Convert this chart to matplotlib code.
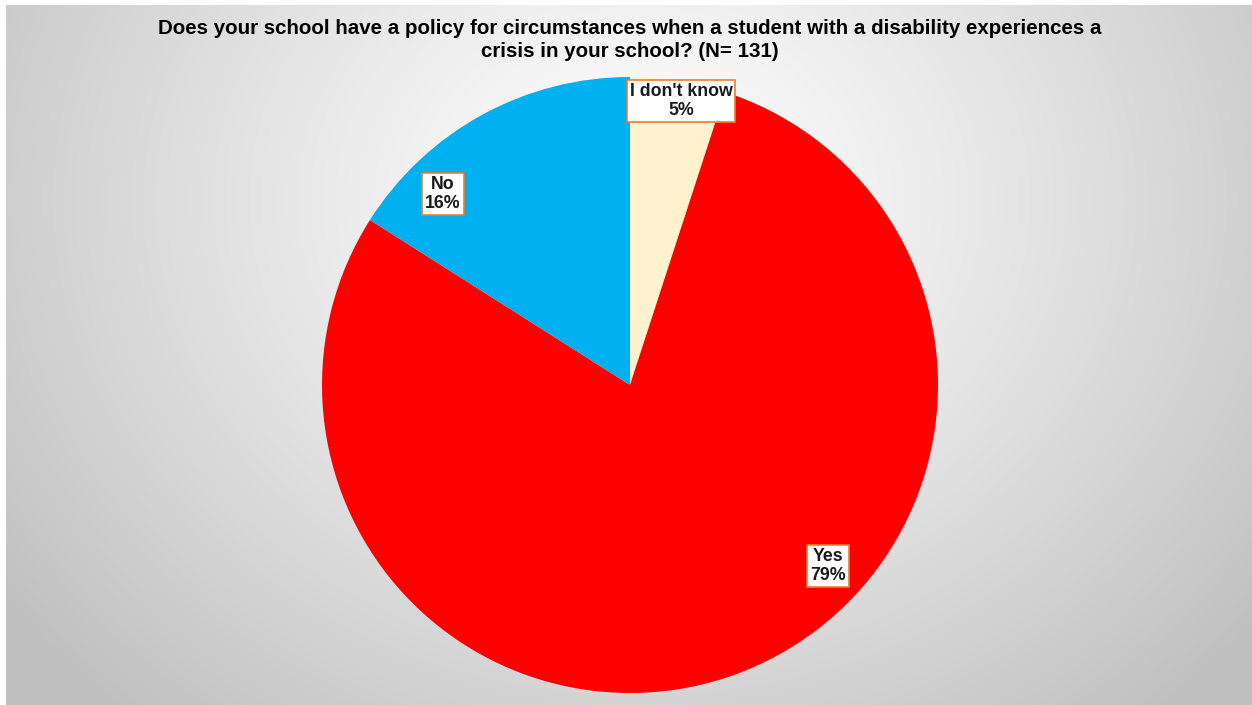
import numpy as np
import matplotlib
matplotlib.use("Agg")
import matplotlib.pyplot as plt

# Survey responses (share of respondents, %)
categories = ["I don't know", "Yes", "No"]
shares = [5, 79, 16]
colors = ["#FFF2CC", "#FF0000", "#00B0F0"]
title = ("Does your school have a policy for circumstances when a student with a disability experiences a\n"
         "crisis in your school? (N= 131)")

W, H = 1252, 705
fig = plt.figure(figsize=(W / 100, H / 100), dpi=100)
fig.patch.set_facecolor("white")
ax = fig.add_axes([0, 0, 1, 1])
ax.set_xlim(0, W)
ax.set_ylim(0, H)
ax.set_aspect("equal")
ax.axis("off")

# radial grey background inside a thin white frame
x0, x1, y0, y1 = 6, W, 0, H - 5
gx = np.linspace(x0, x1, 400)
gy = np.linspace(y0, y1, 240)
X, Y = np.meshgrid(gx, gy)
cx, cy = 640, H - 200
d = np.sqrt(((X - cx) / 720) ** 2 + ((Y - cy) / 620) ** 2)
shade = 1.0 - 0.22 * np.clip(d, 0, 1.1) ** 1.2
rgb = np.dstack([shade, shade, shade])
ax.imshow(rgb, extent=(x0, x1, y0, y1), origin="lower", zorder=0, interpolation="bilinear")

# pie
center = (630, H - 385)
radius = 308
wedges, _ = ax.pie(shares, colors=colors, startangle=90, counterclock=False,
                   center=center, radius=radius, frame=True,
                   wedgeprops=dict(linewidth=0))
for w in wedges:
    w.set_zorder(2)
ax.set_xlim(0, W)
ax.set_ylim(0, H)
ax.axis("off")

# data labels
label_pos = [(681, H - 101), (828, H - 566), (443, H - 194)]
for cat, val, (lx, ly) in zip(categories, shares, label_pos):
    ax.text(lx, ly, f"{cat}\n{val}%", ha="center", va="center",
            fontsize=12.8, fontweight="bold", family="Liberation Sans",
            color="#1a1a1a", linespacing=1.12, zorder=5,
            bbox=dict(boxstyle="square,pad=0.16", fc="white", ec="#ED7D31", lw=1.2))

ax.text(630, H - 40, title, ha="center", va="center", fontsize=14.8,
        fontweight="bold", family="Liberation Sans", color="black",
        linespacing=1.27, zorder=5)

fig.savefig("out.png", dpi=100)
